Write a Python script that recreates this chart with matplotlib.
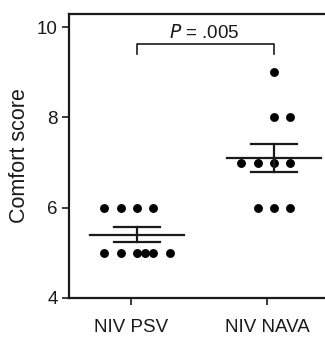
import numpy as np
import matplotlib
matplotlib.use("Agg")
import matplotlib.pyplot as plt

plt.rcParams['font.family'] = ['Liberation Sans', 'DejaVu Sans']

categories = ["NIV PSV", "NIV NAVA"]
psv_scores = [6, 6, 6, 6, 5, 5, 5, 5, 5, 5]
nava_scores = [9, 8, 8, 7, 7, 7, 7, 6, 6, 6]
# horizontal scatter offsets (in dot steps) for each dot
psv_offsets = [-2, -1, 0, 1, -2, -1, 0, 0.5, 1, 2]
nava_offsets = [0, 0, 1, -2, -1, 0, 1, -1, 0, 1]
p_text = "= .005"
yticks = [4, 6, 8, 10]

groups = [psv_scores, nava_scores]
offsets = [psv_offsets, nava_offsets]

fig = plt.figure(figsize=(3.25, 3.38), dpi=100)
ax = fig.add_axes([69/325, 40/338, (325-69)/325, (298-14)/338])

step = 0.12
lw = 1.6
for i, (vals, offs) in enumerate(zip(groups, offsets)):
    vals = np.array(vals, dtype=float)
    xs = i + step * np.array(offs)
    ax.plot(xs, vals, 'o', color='black', markersize=6.4, markeredgewidth=0, zorder=3, clip_on=False)
    m = vals.mean()
    sem = vals.std(ddof=1) / np.sqrt(len(vals))
    ax.plot([i - 0.34, i + 0.34], [m, m], color='#1a1a1a', lw=lw, zorder=4)
    ax.plot([i, i], [m - sem, m + sem], color='#1a1a1a', lw=lw, zorder=4)
    for yy in (m - sem, m + sem):
        ax.plot([i - 0.17, i + 0.17], [yy, yy], color='#1a1a1a', lw=lw, zorder=4)

# significance bracket
ax.plot([0, 0, 1, 1], [9.40, 9.62, 9.62, 9.40], color='#1a1a1a', lw=1.2)
ax.text(0.49, 9.68, r"$\mathit{P}$ " + p_text, ha='center', va='bottom', fontsize=13.5, color='#1a1a1a')

ax.set_xlim(-0.496, 1.372)
ax.set_ylim(4, 10.29)
ax.set_xticks([-0.045, 0.95])
ax.set_xticklabels(categories)
ax.set_yticks(yticks)
ax.set_yticklabels([str(t) for t in yticks])
ax.set_ylabel("Comfort score", fontsize=15.5, color='#1a1a1a', labelpad=5)

for s in ['left', 'bottom', 'top']:
    ax.spines[s].set_linewidth(1.6)
    ax.spines[s].set_color('#1a1a1a')
ax.spines['right'].set_visible(False)
ax.tick_params(axis='y', direction='out', length=5, width=1.2, labelsize=13.5, pad=3, colors='#1a1a1a')
ax.tick_params(axis='x', direction='out', length=5, width=1.2, labelsize=13.5, pad=10, colors='#1a1a1a')

fig.savefig("out.png", dpi=100)
